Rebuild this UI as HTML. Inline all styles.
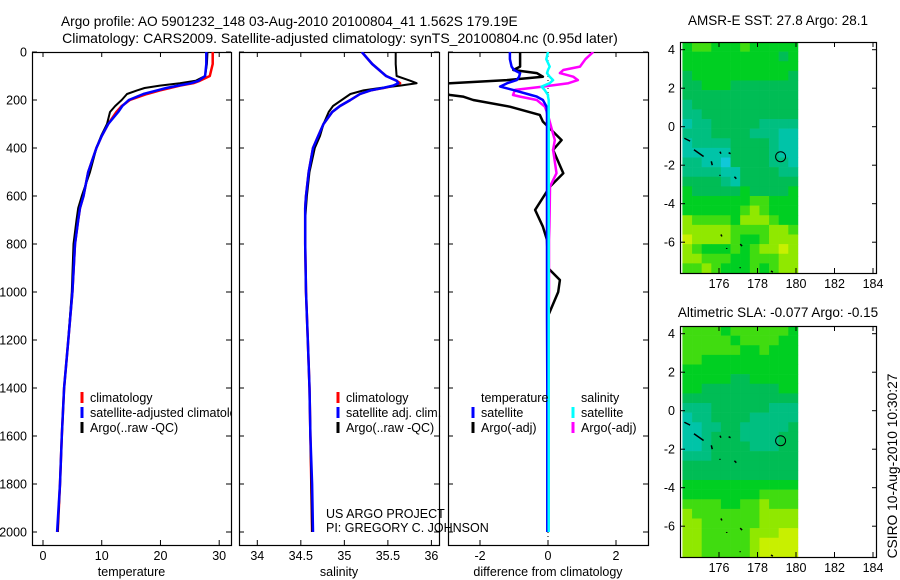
<!DOCTYPE html>
<html><head><meta charset="utf-8"><style>
html,body{margin:0;padding:0;background:#fff;}
svg{display:block;font-family:"Liberation Sans",sans-serif;}
text{fill:#000;}
</style></head><body>
<svg id="fig" width="900" height="580" viewBox="0 0 900 580" xmlns="http://www.w3.org/2000/svg">
<text x="61" y="26" font-size="13.7">Argo profile: AO 5901232_148 03-Aug-2010 20100804_41 1.562S 179.19E</text>
<text x="340" y="43" font-size="14" text-anchor="middle">Climatology: CARS2009. Satellite-adjusted climatology: synTS_20100804.nc (0.95d later)</text>
<text x="778" y="25" font-size="13.5" text-anchor="middle">AMSR-E SST: 27.8 Argo: 28.1</text>
<text x="778" y="317" font-size="13.5" text-anchor="middle">Altimetric SLA: -0.077 Argo: -0.15</text>
<text transform="translate(897,466) rotate(-90)" font-size="13.8" text-anchor="middle">CSIRO 10-Aug-2010 10:30:27</text>
<g id="g"></g>
</svg>
<script>
// ---- data ----
const depths = [0,50,100,120,130,140,150,160,175,200,225,250,300,350,400,500,600,650,700,800,1000,1200,1400,1600,1800,2000];
const tempClim = [28.9,28.9,28.4,26.7,25.6,23.3,21.6,19.9,17.7,14.8,13.4,12.5,11.1,10.0,9.1,7.7,6.9,6.3,6.0,5.45,5.0,4.3,3.6,3.2,2.9,2.5];
const tempSat  = [27.8,27.8,27.6,26.5,25.2,23.0,21.0,19.4,17.1,14.6,13.5,12.8,11.1,10.0,9.1,7.7,6.9,6.3,6.0,5.45,5.0,4.3,3.6,3.2,2.9,2.4];
const tempArgo = [28.0,27.9,27.6,26.0,23.3,19.9,17.3,16.0,14.3,13.4,12.3,11.4,10.9,9.9,9.1,8.0,6.6,6.0,5.7,5.2,4.9,4.3,3.6,3.2,2.9,2.5];
const salClim = [35.20,35.32,35.48,35.60,35.64,35.58,35.45,35.30,35.18,35.07,34.95,34.86,34.76,34.70,34.64,34.59,34.56,34.55,34.55,34.55,34.56,34.58,34.60,34.61,34.62,34.63];
const salSat  = [35.20,35.32,35.48,35.60,35.62,35.56,35.44,35.30,35.18,35.07,34.95,34.86,34.76,34.70,34.64,34.59,34.56,34.55,34.55,34.55,34.56,34.58,34.60,34.61,34.63,34.64];
const salArgo = [35.59,35.59,35.60,35.76,35.83,35.64,35.41,35.22,35.07,34.97,34.87,34.82,34.76,34.72,34.66,34.60,34.57,34.56,34.55,34.55,34.56,34.58,34.60,34.61,34.62,34.63];
const diffDepths = [0,30,61,75,88,103,117,130,144,158,179,186,200,228,262,290,367,408,505,561,658,728,783,900,950,1000,1100,1400,2000];
const dTempSat  = [-1.12,-1.12,-1.07,-1.0,-0.82,-0.85,-0.92,-1.2,-1.41,-1.03,-0.5,-0.33,-0.15,-0.04,-0.03,-0.03,-0.03,-0.03,-0.03,-0.03,-0.03,-0.03,-0.03,-0.03,-0.03,-0.03,-0.03,-0.02,-0.02];
const dTempArgo = [-0.82,-0.82,-0.82,-1.02,-0.33,-0.15,-1.21,-2.88,-3.5,-3.5,-2.88,-2.5,-2.2,-1.12,-0.24,-0.15,0.4,0.15,0.45,0.06,-0.38,-0.15,-0.03,0.0,0.35,0.3,0.0,0.0,0.0];
const dSalSat   = [0.0,-0.05,0.05,0.0,-0.03,0.05,0.15,0.05,-0.19,-0.1,0.0,0.0,0.02,0.02,0.02,0.02,0.02,0.02,0.02,0.02,0.02,0.02,0.02,0.02,0.02,0.02,0.02,0.02,0.02];
const dSalArgo  = [1.33,1.1,0.94,0.45,0.35,0.74,0.88,0.6,-0.15,-0.97,-1.03,-0.82,-0.33,-0.09,0.0,0.05,0.2,0.15,0.25,0.06,0.05,0.04,0.03,0.03,0.03,0.03,0.02,0.02,0.02];
const tempTicks = [0,10,20,30];
const salTicks = [34,34.5,35,35.5,36];
const diffTicks = [-2,0,2];
const depthTicks = [0,200,400,600,800,1000,1200,1400,1600,1800,2000];
const lonTicks = [176,178,180,182,184];
const latTicks = [4,2,0,-2,-4,-6];
const argoLon = 179.2, argoLat = -1.56;
const sstGrid = ["455444544444","444444444434","444444444444","344444444443","334443333333","333333333333","233333333333","223333333333","122333332222","222333322211","122223333211","111113333211","221103333221","222211333322","333321333333","433333433334","444444455444","444444565444","655554666544","666665555665","766665445666","654445456676","665554455566","556544454566"];
const slaGrid = ["555545555554","555554555544","555555445444","554444444444","444444444444","444443344444","443333333344","333333333333","222333333222","122333322222","112233222223","112333222233","112333322233","222333333333","333333333333","333333333333","444444444444","444444445555","555544556555","655555556666","665555556666","665555566677","665555567777","665555567777"];
const palette = ["#10c8d8","#00c4a8","#00bf80","#00bd55","#00cf22","#40dc10","#90e800","#c8f000"];

// ---- drawing ----
const NS="http://www.w3.org/2000/svg";
const G=document.getElementById('g');
function mk(tag,attrs,parent){const e=document.createElementNS(NS,tag);for(const k in attrs)e.setAttribute(k,attrs[k]);(parent||G).appendChild(e);return e;}
const PT=52, PB=545;
function yD(d){return 52+d*0.24;}
function lin(v0,p0,v1,p1){return v=>p0+(v-v0)*(p1-p0)/(v1-v0);}
const panels=[
 {x0:32,x1:231,sx:lin(0,43,30,219.2),ticks:tempTicks,lab:'temperature',id:'temperature',ylab:true},
 {x0:239,x1:439,sx:lin(34,257.3,36,431.4),ticks:salTicks,lab:'salinity',id:'salinity'},
 {x0:448,x1:648,sx:lin(-2,480,2,616),ticks:diffTicks,lab:'difference from climatology',id:'difference'}
];
panels.forEach((p,i)=>{
  const cp=mk('clipPath',{id:'cp'+i});
  mk('rect',{x:p.x0,y:PT,width:p.x1-p.x0,height:PB-PT},cp);
  const fr=mk('rect',{x:p.x0+0.5,y:PT+0.5,width:p.x1-p.x0,height:PB-PT,fill:'none',stroke:'#000','stroke-width':1.2});
  
  
  depthTicks.forEach(d=>{
    const y=yD(d);
    mk('line',{x1:p.x0,x2:p.x0+5,y1:y,y2:y,stroke:'#000'});
    mk('line',{x1:p.x1-5,x2:p.x1,y1:y,y2:y,stroke:'#000'});
    if(p.ylab){const t=mk('text',{x:27,y:y+4.5,'font-size':12.5,'text-anchor':'end'});t.textContent=d;
      
      }
  });
  p.ticks.forEach(v=>{
    const x=p.sx(v);
    mk('line',{x1:x,x2:x,y1:PT,y2:PT+5,stroke:'#000'});
    mk('line',{x1:x,x2:x,y1:PB-5,y2:PB,stroke:'#000'});
    const t=mk('text',{x:x,y:560,'font-size':12.5,'text-anchor':'middle'});t.textContent=v;
    
    
  });
  const xl=mk('text',{x:(p.x0+p.x1)/2,y:576,'font-size':12.5,'text-anchor':'middle'});xl.textContent=p.lab;
  
  
});
function line(pi,dep,vals,col,name,w){
  const p=panels[pi];
  const pts=vals.map((v,k)=>p.sx(v).toFixed(1)+','+yD(dep[k]).toFixed(1)).join(' ');
  const e=mk('polyline',{points:pts,fill:'none',stroke:col,'stroke-width':w||2,'clip-path':'url(#cp'+pi+')','stroke-linejoin':'round'});
  
  
}
line(0,depths,tempClim,'#f00','temp-climatology-line',2.5);
line(0,depths,tempArgo,'#000','temp-argo-line',2);
line(0,depths,tempSat,'#00f','temp-satellite-line',2.5);
line(1,depths,salClim,'#f00','sal-climatology-line',2.5);
line(1,depths,salArgo,'#000','sal-argo-line',2);
line(1,depths,salSat,'#00f','sal-satellite-line',2.5);
mk('line',{x1:548,x2:548,y1:PT,y2:PB,stroke:'#000','stroke-dasharray':'1 3'});
line(2,diffDepths,dTempArgo,'#000','diff-temp-argo-line',2.5);
line(2,diffDepths,dSalArgo,'#f0f','diff-sal-argo-line',2.5);
line(2,diffDepths,dTempSat,'#00f','diff-temp-satellite-line',2.5);
line(2,diffDepths,dSalSat,'#0ff','diff-sal-satellite-line',2.5);
function leg(x,y,col,txt,name,clip){
  if(col){const m=mk('line',{x1:x,x2:x,y1:y-10,y2:y+1,stroke:col,'stroke-width':3});
    
    }
  const t=mk('text',{x:x+8,y:y,'font-size':12.5});t.textContent=txt;
  if(clip)t.setAttribute('clip-path','url(#cp'+clip+')');
  
  
}
leg(82,402,'#f00','climatology','legend-climatology');
leg(82,417,'#00f','satellite-adjusted climatology','legend-satellite-adjusted','0');
leg(82,432,'#000','Argo(..raw -QC)','legend-argo');
leg(338,402,'#f00','climatology','legend-sal-climatology');
leg(338,417,'#00f','satellite adj. clim.','legend-sal-satellite');
leg(338,432,'#000','Argo(..raw -QC)','legend-sal-argo');
leg(473,402,null,'temperature','legend-temperature-header');
leg(473,417,'#00f','satellite','legend-diff-temp-satellite');
leg(473,432,'#000','Argo(-adj)','legend-diff-temp-argo');
leg(573,402,null,'salinity','legend-salinity-header');
leg(573,417,'#0ff','satellite','legend-diff-sal-satellite');
leg(573,432,'#f0f','Argo(-adj)','legend-diff-sal-argo');
const c1=mk('text',{x:326,y:518,'font-size':12.5});c1.textContent='US ARGO PROJECT';


const c2=mk('text',{x:326,y:532,'font-size':12.5});c2.textContent='PI: GREGORY C. JOHNSON';



const sxL=lin(176,719,184,873);
const lonMin=174.1, lonMax=180.1, latMax=4.4, latMin=-7.6;
function map(top,bot,grid,name){
  const syL=lin(4.4,top,-7.6,bot);
  const rows=grid.length, cols=grid[0].length;
  const dLon=(lonMax-lonMin)/cols, dLat=(latMax-latMin)/rows;
  const hm=mk('g',{});
  
  
  for(let r=0;r<rows;r++)for(let c=0;c<cols;c++){
    const x=sxL(lonMin+c*dLon), y=syL(latMax-r*dLat);
    const cell=mk('rect',{x:x,y:y,width:sxL(lonMin+(c+1)*dLon)-x+0.3,height:syL(latMax-(r+1)*dLat)-y+0.3,fill:palette[+grid[r][c]]},hm);
    
    
  }
  [[174.2,-0.6,174.5,-0.75],[174.7,-1.2,175.2,-1.55],[175.6,-1.8,175.65,-2.0],[176.05,-1.3,176.1,-1.4],[176.5,-1.35,176.6,-1.4],[176.05,-2.5,176.05,-2.55],[176.8,-2.6,176.9,-2.7],[176.1,-5.6,176.15,-5.7],[176.4,-6.3,176.4,-6.35],[177.1,-6.1,177.2,-6.2],[177.1,-7.3,177.1,-7.35],[178.7,-7.5,178.8,-7.55]].forEach(s=>{
    mk('line',{x1:sxL(s[0]),y1:syL(s[1]),x2:sxL(s[2]),y2:syL(s[3]),stroke:'#000','stroke-width':1.5});
  });
  const ci=mk('circle',{cx:sxL(argoLon),cy:syL(argoLat),r:5,fill:'none',stroke:'#000','stroke-width':1});
  
  
  const fr=mk('rect',{x:680.5,y:top+0.5,width:196,height:bot-top,fill:'none',stroke:'#000','stroke-width':1.2});
  
  
  latTicks.forEach(v=>{const y=syL(v);
    mk('line',{x1:680,x2:685,y1:y,y2:y,stroke:'#000'});
    mk('line',{x1:872,x2:877,y1:y,y2:y,stroke:'#000'});
    const t=mk('text',{x:675,y:y+4.5,'font-size':12.5,'text-anchor':'end'});t.textContent=v;
    
    });
  lonTicks.forEach(v=>{const x=sxL(v);
    mk('line',{x1:x,x2:x,y1:top,y2:top+5,stroke:'#000'});
    mk('line',{x1:x,x2:x,y1:bot-5,y2:bot,stroke:'#000'});
    const t=mk('text',{x:x,y:bot+15,'font-size':12.5,'text-anchor':'middle'});t.textContent=v;
    
    });
}
map(42,273,sstGrid,'sst-map');
map(326,557,slaGrid,'sla-map');
</script>
</body></html>
